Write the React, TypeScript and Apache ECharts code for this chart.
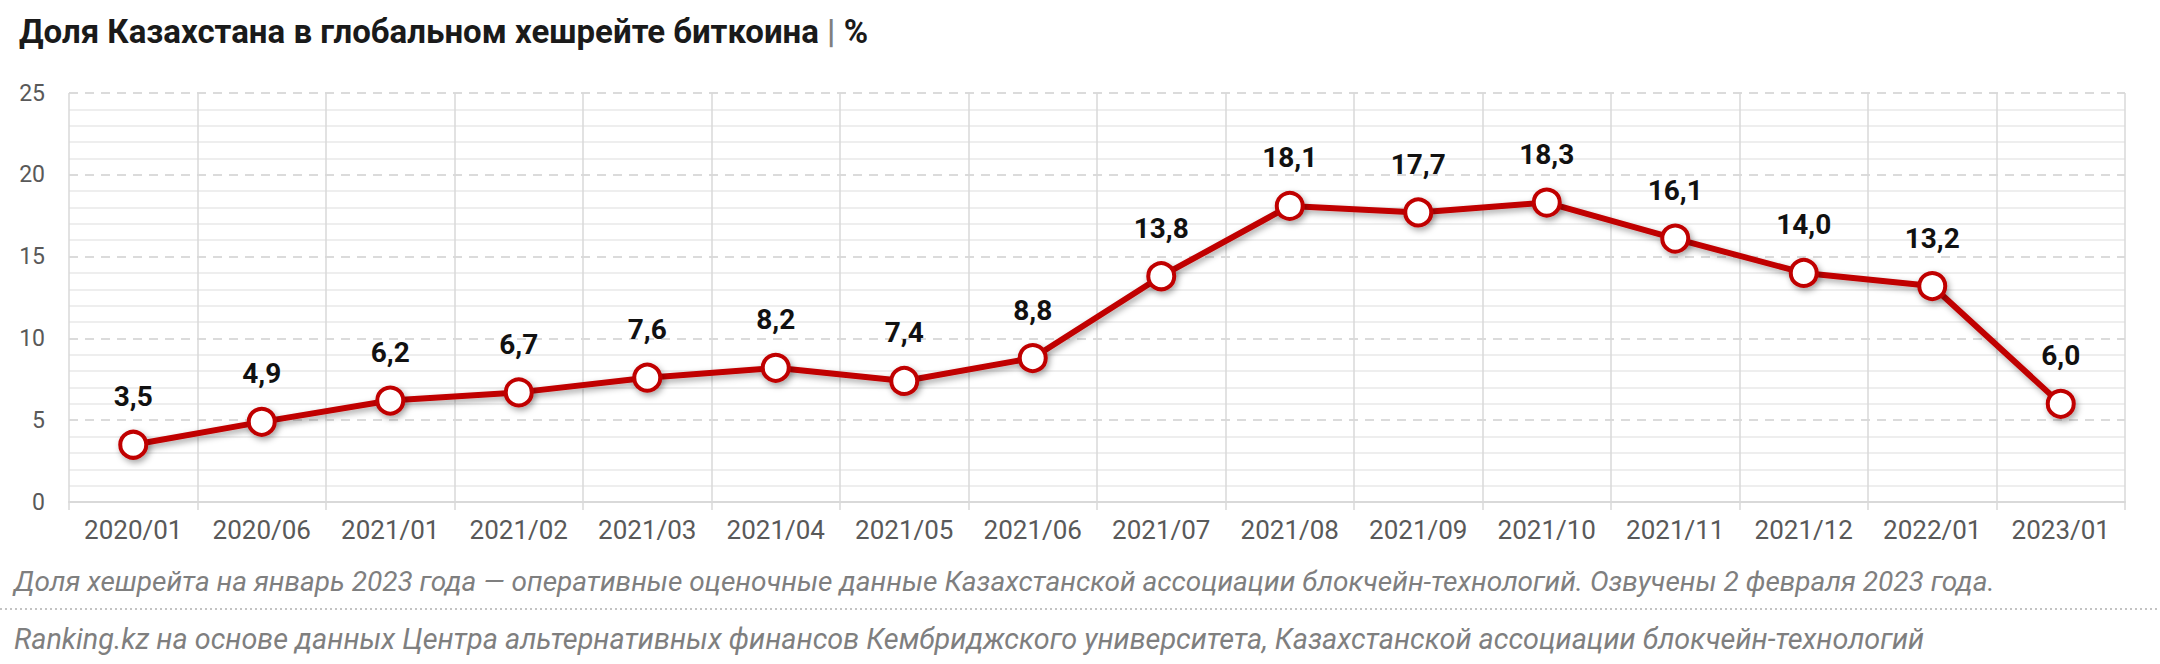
import React, { useEffect, useRef } from "react";
import * as echarts from "echarts";

const categories = [
  "2020/01", "2020/06", "2021/01", "2021/02", "2021/03", "2021/04", "2021/05", "2021/06",
  "2021/07", "2021/08", "2021/09", "2021/10", "2021/11", "2021/12", "2022/01", "2023/01",
];
const shareValues = [3.5, 4.9, 6.2, 6.7, 7.6, 8.2, 7.4, 8.8, 13.8, 18.1, 17.7, 18.3, 16.1, 14.0, 13.2, 6.0];

const titleText = "Доля Казахстана в глобальном хешрейте биткоина";
const noteText =
  "Доля хешрейта на январь 2023 года — оперативные оценочные данные Казахстанской ассоциации блокчейн-технологий. Озвучены 2 февраля 2023 года.";
const sourceText =
  "Ranking.kz на основе данных Центра альтернативных финансов Кембриджского университета, Казахстанской ассоциации блокчейн-технологий";

const FONT = "Roboto, 'Noto Sans', sans-serif";

const App: React.FC = () => {
  const chartref = useRef<HTMLDivElement>(null);

  useEffect(() => {
    document.body.style.margin = "0";
    const myChart = echarts.init(chartref.current as HTMLDivElement, undefined, { renderer: "svg" });
    const option: echarts.EChartsOption = {
      animation: false,
      backgroundColor: "#ffffff",
      textStyle: { fontFamily: FONT },
      title: {
        text: `{b|${titleText}}{s| | }{p|%}`,
        left: 14,
        top: 10,
        textStyle: {
          rich: {
            b: { fontFamily: FONT, fontWeight: "bold", fontSize: 33, color: "#1a1a1a" },
            s: { fontFamily: FONT, fontSize: 33, color: "#7f7f7f" },
            p: { fontFamily: FONT, fontSize: 33, color: "#1a1a1a" },
          },
        },
      },
      grid: { left: 69, right: 35, top: 93, bottom: 162 },
      xAxis: {
        type: "category",
        data: categories,
        boundaryGap: true,
        axisLine: { show: true, lineStyle: { color: "#d9d9d9", width: 2 } },
        axisTick: { show: true, length: 8, lineStyle: { color: "#d9d9d9", width: 1.5 } },
        axisLabel: { color: "#595959", fontSize: 26, fontFamily: FONT, margin: 15 },
        splitLine: { show: true, lineStyle: { color: "#d9d9d9", width: 1.5 } },
      },
      yAxis: {
        type: "value",
        min: 0,
        max: 25,
        interval: 5,
        axisLine: { show: false },
        axisTick: { show: false },
        axisLabel: { color: "#595959", fontSize: 23, fontFamily: FONT, margin: 24 },
        splitLine: { show: true, lineStyle: { color: "#d0d0d0", width: 1.5, type: [9, 7] } },
        minorTick: { show: false, splitNumber: 5 },
        minorSplitLine: { show: true, lineStyle: { color: "#eeeeee", width: 2 } },
      },
      series: [
        {
          type: "line",
          data: shareValues,
          symbol: "circle",
          symbolSize: 26,
          lineStyle: {
            color: "#c00000",
            width: 6,
            shadowColor: "rgba(0,0,0,0.35)",
            shadowBlur: 6,
            shadowOffsetX: 2,
            shadowOffsetY: 3,
          },
          itemStyle: {
            color: "#ffffff",
            borderColor: "#c00000",
            borderWidth: 4,
            shadowColor: "rgba(0,0,0,0.35)",
            shadowBlur: 6,
            shadowOffsetX: 2,
            shadowOffsetY: 3,
          },
          label: {
            show: true,
            position: "top",
            distance: 19,
            fontFamily: FONT,
            fontWeight: "bold",
            fontSize: 28,
            color: "#111111",
            formatter: (p: any) => Number(p.value).toFixed(1).replace(".", ","),
          },
        },
      ],
      graphic: [
        {
          type: "text",
          x: 14,
          y: 581,
          style: {
            text: noteText,
            fontFamily: FONT,
            fontStyle: "italic",
            fontSize: 28,
            fill: "#7f7f7f",
            verticalAlign: "middle",
          },
        },
        {
          type: "line",
          shape: { x1: 0, y1: 609, x2: 2160, y2: 609 },
          style: { stroke: "#b0b0b0", lineWidth: 1.5, lineDash: [2, 3] },
        },
        {
          type: "text",
          x: 14,
          y: 639,
          style: {
            text: sourceText,
            fontFamily: FONT,
            fontStyle: "italic",
            fontSize: 28.8,
            fill: "#7f7f7f",
            verticalAlign: "middle",
          },
        },
      ],
    };

    myChart.setOption(option);

    return () => {
      myChart.dispose();
    };
  }, []);

  return <div ref={chartref} style={{ width: "2160px", height: "664px" }} />;
};

export default App;
